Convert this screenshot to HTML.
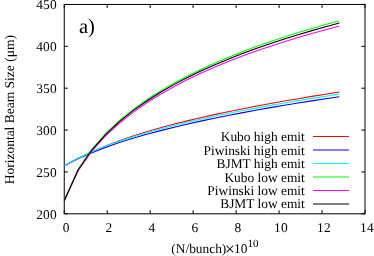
<!DOCTYPE html>
<html><head><meta charset="utf-8"><style>
html,body{margin:0;padding:0;background:#fff;}
svg{display:block;will-change:transform;text-rendering:geometricPrecision}
.t{font-family:"Liberation Serif",serif;font-size:13.4px;fill:#000}
.d{letter-spacing:0.25px}
.a{font-family:"Liberation Serif",serif;font-size:20.5px;fill:#000}
</style></head><body>
<svg width="374" height="256" viewBox="0 0 374 256">
<rect width="374" height="256" fill="#fff"/>
<rect x="64.25" y="4.45" width="300.75" height="209.35" fill="none" stroke="#000" stroke-width="1"/>
<path d="M64.25,213.8 v-3.6 M64.25,4.45 v3.6" stroke="#000" stroke-width="1"/>
<text x="66.2" y="231.8" text-anchor="middle" class="t d">0</text>
<path d="M107.21,213.8 v-3.6 M107.21,4.45 v3.6" stroke="#000" stroke-width="1"/>
<text x="109.1" y="231.8" text-anchor="middle" class="t d">2</text>
<path d="M150.18,213.8 v-3.6 M150.18,4.45 v3.6" stroke="#000" stroke-width="1"/>
<text x="152.1" y="231.8" text-anchor="middle" class="t d">4</text>
<path d="M193.14,213.8 v-3.6 M193.14,4.45 v3.6" stroke="#000" stroke-width="1"/>
<text x="195.0" y="231.8" text-anchor="middle" class="t d">6</text>
<path d="M236.11,213.8 v-3.6 M236.11,4.45 v3.6" stroke="#000" stroke-width="1"/>
<text x="238.0" y="231.8" text-anchor="middle" class="t d">8</text>
<path d="M279.07,213.8 v-3.6 M279.07,4.45 v3.6" stroke="#000" stroke-width="1"/>
<text x="281.0" y="231.8" text-anchor="middle" class="t d">10</text>
<path d="M322.04,213.8 v-3.6 M322.04,4.45 v3.6" stroke="#000" stroke-width="1"/>
<text x="323.9" y="231.8" text-anchor="middle" class="t d">12</text>
<path d="M365.00,213.8 v-3.6 M365.00,4.45 v3.6" stroke="#000" stroke-width="1"/>
<text x="366.9" y="231.8" text-anchor="middle" class="t d">14</text>
<path d="M64.25,213.80 h3.6 M365.0,213.80 h-3.6" stroke="#000" stroke-width="1"/>
<text x="57.0" y="218.6" text-anchor="end" class="t d">200</text>
<path d="M64.25,171.93 h3.6 M365.0,171.93 h-3.6" stroke="#000" stroke-width="1"/>
<text x="57.0" y="176.7" text-anchor="end" class="t d">250</text>
<path d="M64.25,130.06 h3.6 M365.0,130.06 h-3.6" stroke="#000" stroke-width="1"/>
<text x="57.0" y="134.9" text-anchor="end" class="t d">300</text>
<path d="M64.25,88.19 h3.6 M365.0,88.19 h-3.6" stroke="#000" stroke-width="1"/>
<text x="57.0" y="93.0" text-anchor="end" class="t d">350</text>
<path d="M64.25,46.32 h3.6 M365.0,46.32 h-3.6" stroke="#000" stroke-width="1"/>
<text x="57.0" y="51.1" text-anchor="end" class="t d">400</text>
<path d="M64.25,4.45 h3.6 M365.0,4.45 h-3.6" stroke="#000" stroke-width="1"/>
<text x="57.0" y="9.3" text-anchor="end" class="t d">450</text>
<path d="M64.25,165.75 L78.01,158.31 L91.77,151.65 L105.52,145.90 L119.28,140.78 L133.04,136.12 L146.80,131.81 L160.55,127.79 L174.31,124.01 L188.07,120.62 L201.82,117.42 L215.58,114.38 L229.34,111.48 L243.10,108.71 L256.86,106.06 L270.61,103.51 L284.37,101.06 L298.13,98.69 L311.88,96.40 L325.64,94.19 L339.40,92.04" fill="none" stroke="#ff0000" stroke-width="1.1" stroke-linejoin="round"/>
<path d="M64.25,165.75 L78.01,158.73 L91.77,152.78 L105.52,147.38 L119.28,142.58 L133.04,138.25 L146.80,134.28 L160.55,130.61 L174.31,127.17 L188.07,123.94 L201.82,120.89 L215.58,118.00 L229.34,115.24 L243.10,112.60 L256.86,110.07 L270.61,107.64 L284.37,105.30 L298.13,103.05 L311.88,100.87 L325.64,98.75 L339.40,96.71" fill="none" stroke="#0000ff" stroke-width="1.1" stroke-linejoin="round"/>
<path d="M64.25,165.75 L78.01,158.39 L91.77,151.86 L105.52,146.27 L119.28,141.32 L133.04,136.86 L146.80,132.77 L160.55,128.98 L174.31,125.45 L188.07,122.13 L201.82,118.99 L215.58,116.01 L229.34,113.17 L243.10,110.46 L256.86,107.86 L270.61,105.36 L284.37,102.95 L298.13,100.63 L311.88,98.39 L325.64,96.21 L339.40,94.11" fill="none" stroke="#00ffff" stroke-width="1.1" stroke-linejoin="round"/>
<path d="M64.25,200.75 L78.01,169.62 L91.77,149.43 L105.52,133.77 L119.28,120.79 L133.04,109.63 L146.80,99.79 L160.55,90.99 L174.31,83.02 L188.07,75.72 L201.82,68.99 L215.58,62.75 L229.34,56.93 L243.10,51.47 L256.86,46.34 L270.61,41.50 L284.37,36.91 L298.13,32.56 L311.88,28.41 L325.64,24.46 L339.40,20.69" fill="none" stroke="#00ff00" stroke-width="1.1" stroke-linejoin="round"/>
<path d="M64.25,200.75 L78.01,170.91 L91.77,151.21 L105.52,135.93 L119.28,123.26 L133.04,112.37 L146.80,102.79 L160.55,94.22 L174.31,86.45 L188.07,79.36 L201.82,72.82 L215.58,66.75 L229.34,61.10 L243.10,55.81 L256.86,50.84 L270.61,46.15 L284.37,41.71 L298.13,37.50 L311.88,33.50 L325.64,29.68 L339.40,26.04" fill="none" stroke="#ff00ff" stroke-width="1.1" stroke-linejoin="round"/>
<path d="M64.25,200.75 L78.01,170.01 L91.77,150.02 L105.52,134.53 L119.28,121.69 L133.04,110.65 L146.80,100.93 L160.55,92.24 L174.31,84.37 L188.07,77.18 L201.82,70.54 L215.58,64.39 L229.34,58.66 L243.10,53.29 L256.86,48.24 L270.61,43.47 L284.37,38.97 L298.13,34.69 L311.88,30.62 L325.64,26.74 L339.40,23.04" fill="none" stroke="#000000" stroke-width="1.1" stroke-linejoin="round"/>
<text x="304.8" y="141.10" text-anchor="end" class="t">Kubo high emit</text>
<path d="M313,136.55 H349.1" stroke="#ff0000" stroke-width="1.05"/>
<text x="304.8" y="154.57" text-anchor="end" class="t">Piwinski high emit</text>
<path d="M313,150.02 H349.1" stroke="#0000ff" stroke-width="1.05"/>
<text x="304.8" y="168.04" text-anchor="end" class="t">BJMT high emit</text>
<path d="M313,163.49 H349.1" stroke="#00ffff" stroke-width="1.05"/>
<text x="304.8" y="181.51" text-anchor="end" class="t">Kubo low emit</text>
<path d="M313,176.96 H349.1" stroke="#00ff00" stroke-width="1.05"/>
<text x="304.8" y="194.98" text-anchor="end" class="t">Piwinski low emit</text>
<path d="M313,190.43 H349.1" stroke="#ff00ff" stroke-width="1.05"/>
<text x="304.8" y="208.45" text-anchor="end" class="t">BJMT low emit</text>
<path d="M313,203.90 H349.1" stroke="#000000" stroke-width="1.05"/>
<text x="79.0" y="32.5" class="a">a)</text>
<text x="171.3" y="252.6" class="t">(N/bunch)<tspan font-size="18" dx="-1.6" dy="2.0">×</tspan><tspan dx="-0.9" dy="-2.0">10</tspan><tspan dy="-6" dx="0.1" font-size="11">10</tspan></text>
<text transform="translate(13.5,109.7) rotate(-90)" text-anchor="middle" class="t" style="font-size:13.5px">Horizontal Beam Size (μm)</text>
</svg></body></html>
